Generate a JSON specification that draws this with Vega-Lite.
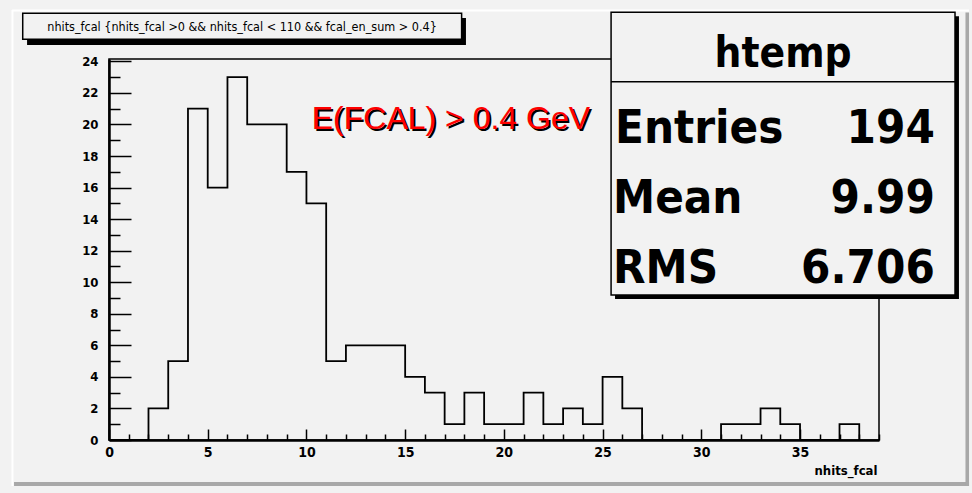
{
  "$schema": "https://vega.github.io/schema/vega-lite/v6.json",
  "width": 770,
  "height": 381,
  "autosize": {"type": "none"},
  "padding": {"left": 109, "top": 59, "right": 93, "bottom": 53},
  "background": "#f2f2f2",
  "config": {
    "view": {"stroke": "#000", "strokeWidth": 1.5},
    "font": "DejaVu Sans Condensed, sans-serif"
  },
  "resolve": {"axis": {"x": "independent", "y": "independent"}},
  "datasets": {
    "hist": [
      {"edge": 0, "count": 0}, {"edge": 1, "count": 0}, {"edge": 2, "count": 2}, {"edge": 3, "count": 5},
      {"edge": 4, "count": 21}, {"edge": 5, "count": 16}, {"edge": 6, "count": 23}, {"edge": 7, "count": 20},
      {"edge": 8, "count": 20}, {"edge": 9, "count": 17}, {"edge": 10, "count": 15}, {"edge": 11, "count": 5},
      {"edge": 12, "count": 6}, {"edge": 13, "count": 6}, {"edge": 14, "count": 6}, {"edge": 15, "count": 4},
      {"edge": 16, "count": 3}, {"edge": 17, "count": 1}, {"edge": 18, "count": 3}, {"edge": 19, "count": 1},
      {"edge": 20, "count": 1}, {"edge": 21, "count": 3}, {"edge": 22, "count": 1}, {"edge": 23, "count": 2},
      {"edge": 24, "count": 1}, {"edge": 25, "count": 4}, {"edge": 26, "count": 2}, {"edge": 27, "count": 0},
      {"edge": 28, "count": 0}, {"edge": 29, "count": 0}, {"edge": 30, "count": 0}, {"edge": 31, "count": 1},
      {"edge": 32, "count": 1}, {"edge": 33, "count": 2}, {"edge": 34, "count": 1}, {"edge": 35, "count": 0},
      {"edge": 36, "count": 0}, {"edge": 37, "count": 1}, {"edge": 38, "count": 0}
    ],
    "one": [{}]
  },
  "layer": [
    {
      "data": {"name": "hist"},
      "mark": {"type": "line", "interpolate": "step-after", "color": "#000", "strokeWidth": 1.8, "clip": false},
      "encoding": {
        "x": {
          "field": "edge", "type": "quantitative",
          "scale": {"domain": [0, 39], "nice": false, "zero": false},
          "axis": {
            "title": "nhits_fcal", "orient": "bottom", "format": "d",
            "values": [0,1,2,3,4,5,6,7,8,9,10,11,12,13,14,15,16,17,18,19,20,21,22,23,24,25,26,27,28,29,30,31,32,33,34,35,36,37,38,39],
            "labelExpr": "datum.value % 5 === 0 ? datum.label : ''",
            "tickSize": -11,
            "tickDash": {"condition": {"test": "datum.value % 5 === 0", "value": [11, 0]}, "value": [6, 30]},
            "tickColor": "#000", "tickWidth": 1.5,
            "domainColor": "#000", "domainWidth": 2.5,
            "grid": false,
            "labelFontSize": 14, "labelFontWeight": "bold", "labelColor": "#000",
            "labelFlush": false, "labelOverlap": false, "labelPadding": 16,
            "titleFontSize": 13, "titleFontWeight": "bold", "titleColor": "#000",
            "titleAnchor": "end", "titleAlign": "right", "titleBaseline": "alphabetic",
            "titleX": 768, "titleY": 34
          }
        },
        "y": {
          "field": "count", "type": "quantitative",
          "scale": {"domain": [0, 24.15], "nice": false, "zero": false},
          "axis": {
            "title": null, "orient": "left", "format": "d",
            "values": [0,0.5,1,1.5,2,2.5,3,3.5,4,4.5,5,5.5,6,6.5,7,7.5,8,8.5,9,9.5,10,10.5,11,11.5,12,12.5,13,13.5,14,14.5,15,15.5,16,16.5,17,17.5,18,18.5,19,19.5,20,20.5,21,21.5,22,22.5,23,23.5,24],
            "labelExpr": "datum.value % 2 === 0 ? datum.label : ''",
            "tickSize": -22,
            "tickDash": {"condition": {"test": "datum.value % 2 === 0", "value": [22, 0]}, "value": [11, 40]},
            "tickColor": "#000", "tickWidth": 1.5,
            "domainColor": "#000", "domainWidth": 2.5,
            "grid": false,
            "labelFontSize": 13, "labelFontWeight": "bold", "labelColor": "#000",
            "labelFlush": false, "labelOverlap": false, "labelPadding": 33
          }
        }
      }
    },
    {
      "data": {"name": "one"},
      "mark": {"type": "rule", "color": "#ffffff", "strokeWidth": 2, "clip": false},
      "encoding": {
        "x": {"datum": -4.91, "type": "quantitative", "axis": null},
        "x2": {"datum": 43.56},
        "y": {"datum": 27.23, "type": "quantitative", "axis": null}
      }
    },
    {
      "data": {"name": "one"},
      "mark": {"type": "rule", "color": "#ffffff", "strokeWidth": 2, "clip": false},
      "encoding": {
        "x": {"datum": -4.89, "type": "quantitative", "axis": null},
        "y": {"datum": 27.26, "type": "quantitative", "axis": null},
        "y2": {"datum": -2.92}
      }
    },
    {
      "data": {"name": "one"},
      "mark": {"type": "rect", "color": "#a8a8a8", "clip": false},
      "encoding": {
        "x": {"datum": -4.81, "type": "quantitative", "axis": null},
        "x2": {"datum": 43.56},
        "y": {"datum": -2.66, "type": "quantitative", "axis": null},
        "y2": {"datum": -2.92}
      }
    },
    {
      "data": {"name": "one"},
      "mark": {"type": "rect", "color": "#a8a8a8", "clip": false},
      "encoding": {
        "x": {"datum": 43.38, "type": "quantitative", "axis": null},
        "x2": {"datum": 43.56},
        "y": {"datum": 27.1, "type": "quantitative", "axis": null},
        "y2": {"datum": -2.92}
      }
    },
    {
      "data": {"name": "one"},
      "mark": {"type": "text", "text": "E(FCAL) > 0.4 GeV", "font": "Liberation Sans, Arial, sans-serif", "fontSize": 32, "align": "left", "baseline": "alphabetic", "color": "#000", "dx": 2, "dy": 2, "clip": false},
      "encoding": {
        "x": {"datum": 10.27, "type": "quantitative", "axis": null},
        "y": {"datum": 19.69, "type": "quantitative", "axis": null}
      }
    },
    {
      "data": {"name": "one"},
      "mark": {"type": "text", "text": "E(FCAL) > 0.4 GeV", "font": "Liberation Sans, Arial, sans-serif", "fontSize": 32, "align": "left", "baseline": "alphabetic", "color": "#ff0000", "clip": false},
      "encoding": {
        "x": {"datum": 10.27, "type": "quantitative", "axis": null},
        "y": {"datum": 19.69, "type": "quantitative", "axis": null}
      }
    },
    {
      "data": {"name": "one"},
      "mark": {"type": "rect", "color": "#000", "clip": false},
      "encoding": {
        "x": {"datum": -4.15, "type": "quantitative", "axis": null},
        "x2": {"datum": 18.08},
        "y": {"datum": 26.75, "type": "quantitative", "axis": null},
        "y2": {"datum": 25.04}
      }
    },
    {
      "data": {"name": "one"},
      "mark": {"type": "rect", "fill": "#f2f2f2", "stroke": "#000", "strokeWidth": 1.5, "clip": false},
      "encoding": {
        "x": {"datum": -4.37, "type": "quantitative", "axis": null},
        "x2": {"datum": 17.86},
        "y": {"datum": 27.05, "type": "quantitative", "axis": null},
        "y2": {"datum": 25.4}
      }
    },
    {
      "data": {"name": "one"},
      "mark": {"type": "text", "text": "nhits_fcal {nhits_fcal >0 && nhits_fcal < 110 && fcal_en_sum > 0.4}", "fontSize": 12.5, "align": "center", "baseline": "middle", "color": "#000", "clip": false},
      "encoding": {
        "x": {"datum": 6.74, "type": "quantitative", "axis": null},
        "y": {"datum": 26.21, "type": "quantitative", "axis": null}
      }
    },
    {
      "data": {"name": "one"},
      "mark": {"type": "rect", "color": "#000", "clip": false},
      "encoding": {
        "x": {"datum": 25.63, "type": "quantitative", "axis": null},
        "x2": {"datum": 43.05},
        "y": {"datum": 26.86, "type": "quantitative", "axis": null},
        "y2": {"datum": 8.94}
      }
    },
    {
      "data": {"name": "one"},
      "mark": {"type": "rect", "fill": "#f2f2f2", "stroke": "#000", "strokeWidth": 1.5, "clip": false},
      "encoding": {
        "x": {"datum": 25.43, "type": "quantitative", "axis": null},
        "x2": {"datum": 42.85},
        "y": {"datum": 27.11, "type": "quantitative", "axis": null},
        "y2": {"datum": 9.19}
      }
    },
    {
      "data": {"name": "one"},
      "mark": {"type": "rule", "color": "#000", "strokeWidth": 1.5, "clip": false},
      "encoding": {
        "x": {"datum": 25.43, "type": "quantitative", "axis": null},
        "x2": {"datum": 42.85},
        "y": {"datum": 22.71, "type": "quantitative", "axis": null}
      }
    },
    {
      "data": {"name": "one"},
      "mark": {"type": "text", "text": "htemp", "fontSize": 42, "fontWeight": "bold", "align": "center", "baseline": "alphabetic", "color": "#000", "clip": false},
      "encoding": {
        "x": {"datum": 34.14, "type": "quantitative", "axis": null},
        "y": {"datum": 23.66, "type": "quantitative", "axis": null}
      }
    },
    {
      "data": {"name": "one"},
      "mark": {"type": "text", "text": "Entries", "fontSize": 47, "fontWeight": "bold", "align": "left", "baseline": "alphabetic", "color": "#000", "clip": false},
      "encoding": {
        "x": {"datum": 25.63, "type": "quantitative", "axis": null},
        "y": {"datum": 18.83, "type": "quantitative", "axis": null}
      }
    },
    {
      "data": {"name": "one"},
      "mark": {"type": "text", "text": "194", "fontSize": 47, "fontWeight": "bold", "align": "right", "baseline": "alphabetic", "color": "#000", "clip": false},
      "encoding": {
        "x": {"datum": 41.83, "type": "quantitative", "axis": null},
        "y": {"datum": 18.83, "type": "quantitative", "axis": null}
      }
    },
    {
      "data": {"name": "one"},
      "mark": {"type": "text", "text": "Mean", "fontSize": 47, "fontWeight": "bold", "align": "left", "baseline": "alphabetic", "color": "#000", "clip": false},
      "encoding": {
        "x": {"datum": 25.53, "type": "quantitative", "axis": null},
        "y": {"datum": 14.39, "type": "quantitative", "axis": null}
      }
    },
    {
      "data": {"name": "one"},
      "mark": {"type": "text", "text": "9.99", "fontSize": 47, "fontWeight": "bold", "align": "right", "baseline": "alphabetic", "color": "#000", "clip": false},
      "encoding": {
        "x": {"datum": 41.83, "type": "quantitative", "axis": null},
        "y": {"datum": 14.39, "type": "quantitative", "axis": null}
      }
    },
    {
      "data": {"name": "one"},
      "mark": {"type": "text", "text": "RMS", "fontSize": 47, "fontWeight": "bold", "align": "left", "baseline": "alphabetic", "color": "#000", "clip": false},
      "encoding": {
        "x": {"datum": 25.53, "type": "quantitative", "axis": null},
        "y": {"datum": 9.95, "type": "quantitative", "axis": null}
      }
    },
    {
      "data": {"name": "one"},
      "mark": {"type": "text", "text": "6.706", "fontSize": 47, "fontWeight": "bold", "align": "right", "baseline": "alphabetic", "color": "#000", "clip": false},
      "encoding": {
        "x": {"datum": 41.83, "type": "quantitative", "axis": null},
        "y": {"datum": 9.95, "type": "quantitative", "axis": null}
      }
    }
  ]
}
